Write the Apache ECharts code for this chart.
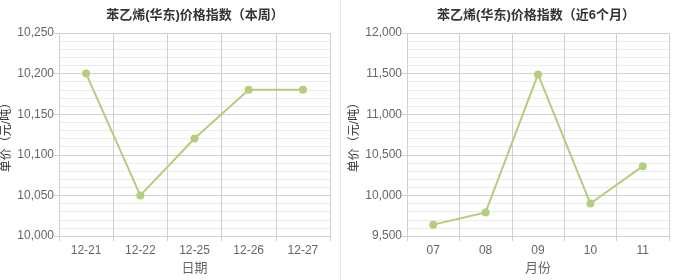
<!DOCTYPE html>
<html><head><meta charset="utf-8">
<script src="https://cdn.jsdelivr.net/npm/echarts@6/dist/echarts.min.js"></script>
<style>html,body{margin:0;padding:0;background:#fff;}#c{width:679px;height:280px;}</style>
</head><body><div id="c"></div>
<script>
var weekTitle = '苯乙烯(华东)价格指数（本周）';
var monthTitle = '苯乙烯(华东)价格指数（近6个月）';
var weekDays = ['12-21','12-22','12-25','12-26','12-27'];
var weekValues = [10200, 10050, 10120, 10180, 10180];
var months = ['07','08','09','10','11'];
var monthValues = [9640, 9790, 11490, 9900, 10360];
var yName = '单价（元/吨）';
var weekXName = '日期';
var monthXName = '月份';

var FONT = '"Liberation Sans", "Noto Sans CJK SC", sans-serif';
var NUMFONT = '"Liberation Sans Narrow", "Liberation Sans", sans-serif';
var lineColor = '#b5cd7e';

function xAxis(gi, data, name) {
  return {
    type: 'category', gridIndex: gi, data: data, boundaryGap: true,
    name: name, nameLocation: 'middle', nameGap: 26,
    nameTextStyle: { color: '#666', fontSize: 13, fontFamily: FONT },
    axisLine: { show: true, lineStyle: { color: '#d0d0d0' } },
    axisTick: { show: true, length: 5, lineStyle: { color: '#d0d0d0' } },
    axisLabel: { color: '#666', fontSize: 12, fontFamily: NUMFONT, margin: 9 },
    splitLine: { show: true, lineStyle: { color: '#d0d0d0' } }
  };
}
function yAxis(gi, min, max, interval) {
  return {
    type: 'value', gridIndex: gi, min: min, max: max, interval: interval,
    name: yName, nameLocation: 'middle', nameGap: 46,
    nameTextStyle: { color: '#333', fontSize: 12, fontFamily: FONT },
    axisLine: { show: false },
    axisTick: { show: true, length: 5, lineStyle: { color: '#d0d0d0' } },
    axisLabel: { color: '#666', fontSize: 12, fontFamily: NUMFONT, margin: 5,
      formatter: function (v) { return v.toLocaleString('en-US'); } },
    splitLine: { show: true, lineStyle: { color: '#d0d0d0' } },
    minorTick: { show: false, splitNumber: 5 },
    minorSplitLine: { show: true, lineStyle: { color: '#ebebeb' } }
  };
}
var chart = echarts.init(document.getElementById('c'), null, { renderer: 'canvas' });
chart.setOption({
  animation: false,
  backgroundColor: '#fff',
  title: [
    { text: weekTitle, left: 190, top: 4, textAlign: 'center',
      textStyle: { fontSize: 13, fontWeight: 'bold', color: '#333', fontFamily: FONT } },
    { text: monthTitle, left: 531, top: 4, textAlign: 'center',
      textStyle: { fontSize: 13, fontWeight: 'bold', color: '#333', fontFamily: FONT } }
  ],
  graphic: [
    { type: 'line', shape: { x1: 340.5, y1: 0, x2: 340.5, y2: 280 }, style: { stroke: '#e6e6e6', lineWidth: 1 } }
  ],
  grid: [
    { left: 58, right: 349, top: 33, bottom: 39 },
    { left: 407, right: 10, top: 33, bottom: 39 }
  ],
  xAxis: [ xAxis(0, weekDays, weekXName), xAxis(1, months, monthXName) ],
  yAxis: [ yAxis(0, 10000, 10250, 50), yAxis(1, 9500, 12000, 500) ],
  series: [
    { type: 'line', xAxisIndex: 0, yAxisIndex: 0, data: weekValues,
      symbol: 'circle', symbolSize: 8, itemStyle: { color: lineColor },
      lineStyle: { color: lineColor, width: 2 } },
    { type: 'line', xAxisIndex: 1, yAxisIndex: 1, data: monthValues,
      symbol: 'circle', symbolSize: 8, itemStyle: { color: lineColor },
      lineStyle: { color: lineColor, width: 2 } }
  ]
});
</script></body></html>
